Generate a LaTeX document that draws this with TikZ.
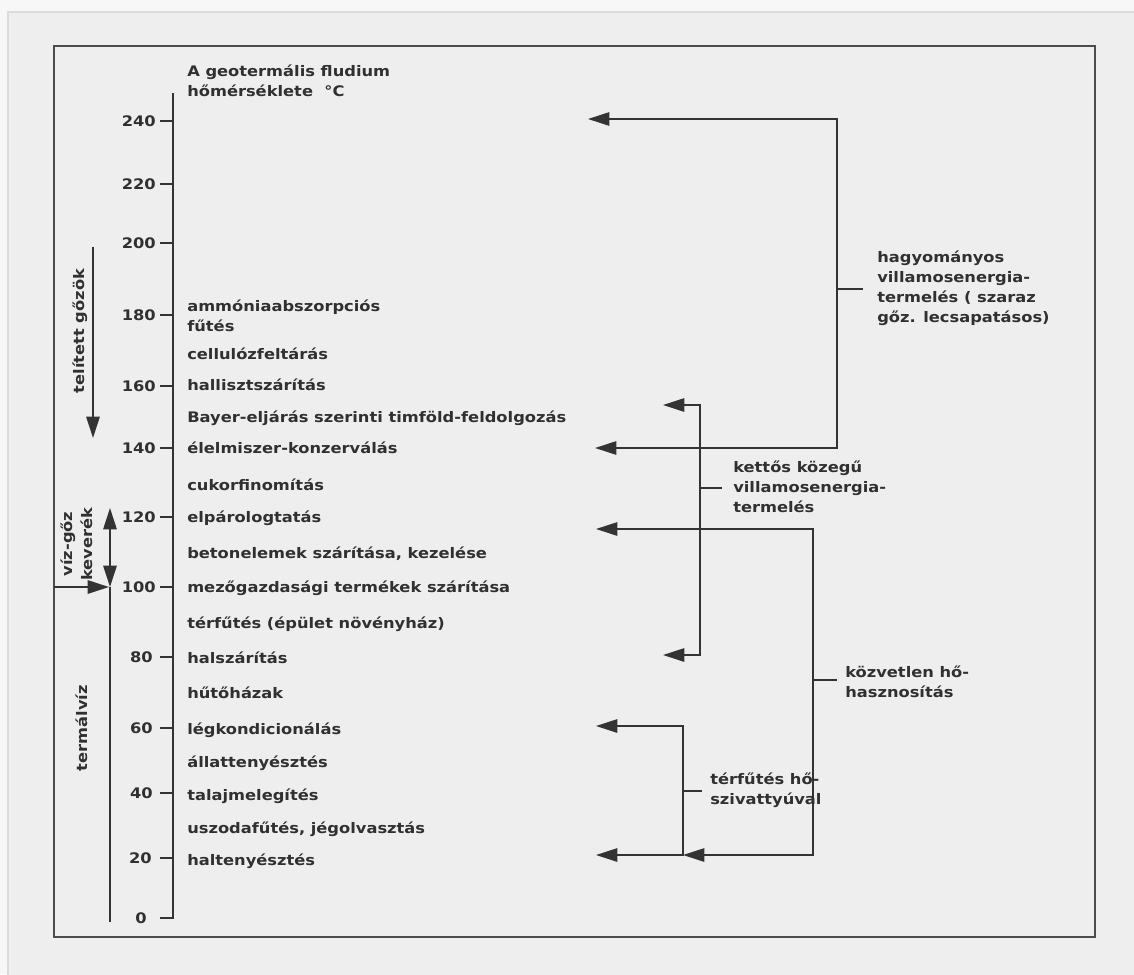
\documentclass[tikz,border=0pt]{standalone}
\usepackage{fontspec}
\usetikzlibrary{arrows.meta}
\newfontfamily\lblfont[FakeStretch=1.12]{DejaVu Sans}
\definecolor{ink}{HTML}{333333}
\definecolor{txt}{HTML}{303030}
\definecolor{paper}{HTML}{EEEEEE}
\definecolor{margin}{HTML}{F7F7F7}
\tikzset{
  every node/.style={font=\lblfont\bfseries\fontsize{10.9pt}{15pt}\selectfont, text=txt, inner sep=0pt},
  conn/.style={draw=ink, line width=1.4pt},
  tipend/.style={conn, -{Triangle[length=16pt,width=10pt]}},
  tipboth/.style={conn, {Triangle[length=16pt,width=10pt]}-{Triangle[length=16pt,width=10pt]}},
  tick/.style={draw=ink, line width=1.4pt},
  ticklab/.style={anchor=east},
  uselab/.style={anchor=base west},
  grplab/.style={anchor=west, align=left},
  sidelab/.style={rotate=90, align=center}
}
\begin{document}
\begin{tikzpicture}[x=0.75pt, y=-0.75pt]
\useasboundingbox (0,0) rectangle (1134,974);
% page background and outer panel
\fill[margin] (0,0) rectangle (1134,974);
\filldraw[fill=paper, draw=black!14, line width=0.8pt] (8,12) rectangle (1160,1000);
% diagram frame
\draw[draw=black!70, line width=1.8pt] (54,46) rectangle (1095,937);

% temperature axis
\draw[conn] (173,93) -- (173,918) -- (160,918);
\foreach \v/\y/\x in {240/121/156, 220/184/156, 200/243/156, 180/315/156, 160/386/156,
                      140/448/156, 120/517/156, 100/587/156, 80/657/153, 60/728/153,
                      40/793/153, 20/858/152} {
  \draw[tick] (160,\y) -- (173,\y);
  \node[ticklab] (t\v) at (\x,\y) {\v};
}
\node[ticklab] (t0) at (147,918) {0};

% axis title
\node[grplab] (title) at (187,81) {A geotermális fludium\\hőmérséklete~~°C};

% applications
\node[grplab] (u180) at (187,316) {ammóniaabszorpciós\\fűtés};
\node[uselab] (u170) at (187,359) {cellulózfeltárás};
\node[uselab] (u160) at (187,390) {hallisztszárítás};
\node[uselab] (u150) at (187,422) {Bayer-eljárás szerinti timföld-feldolgozás};
\node[uselab] (u140) at (187,453) {élelmiszer-konzerválás};
\node[uselab] (u130) at (187,490) {cukorfinomítás};
\node[uselab] (u120) at (187,522) {elpárologtatás};
\node[uselab] (u110) at (187,558) {betonelemek szárítása, kezelése};
\node[uselab] (u100) at (187,592) {mezőgazdasági termékek szárítása};
\node[uselab] (u90)  at (187,628) {térfűtés (épület növényház)};
\node[uselab] (u80)  at (187,663) {halszárítás};
\node[uselab] (u70)  at (187,698) {hűtőházak};
\node[uselab] (u60)  at (187,734) {légkondicionálás};
\node[uselab] (u50)  at (187,767) {állattenyésztés};
\node[uselab] (u40)  at (187,800) {talajmelegítés};
\node[uselab] (u30)  at (187,833) {uszodafűtés, jégolvasztás};
\node[uselab] (u20)  at (187,865) {haltenyésztés};

% phase ranges on the left
\node[sidelab] (steam) at (80,331) {telített gőzök};
\coordinate (steamA) at (93,247);
\coordinate (steamB) at (93,438);
\draw[tipend] (steamA) -- (steamB);

\node[sidelab] (mix) at (77,544) {víz-gőz\\keverék};
\coordinate (mixLo) at (110,587);
\coordinate (mixHi) at (110,508);
\coordinate (waterEnd) at (110,922);
\coordinate (inlet) at (54,587);
\coordinate (inletTip) at (109,587);
\draw[tipboth] (mixLo) -- (mixHi);
\draw[conn] (mixLo) -- (waterEnd);
\draw[tipend] (inlet) -- (inletTip);
\node[sidelab] (water) at (82,728) {termálvíz};

% conventional power generation
\coordinate (hyTop) at (588,119);
\coordinate (hyC1) at (837,119);
\coordinate (hyC2) at (837,448);
\coordinate (hyBot) at (595,448);
\coordinate (hyJ) at (837,289);
\coordinate (hyE) at (863,289);
\draw[tipboth] (hyTop) -- (hyC1) -- (hyC2) -- (hyBot);
\draw[conn] (hyJ) -- (hyE);
\node[grplab] (hy) at (877,288) {hagyományos\\villamosenergia-\\termelés ( szaraz\\gőz. lecsapatásos)};

% binary cycle power generation
\coordinate (bcTop) at (663,405);
\coordinate (bcC1) at (700,405);
\coordinate (bcC2) at (700,655);
\coordinate (bcBot) at (663,655);
\coordinate (bcJ) at (700,488);
\coordinate (bcE) at (722,488);
\draw[tipboth] (bcTop) -- (bcC1) -- (bcC2) -- (bcBot);
\draw[conn] (bcJ) -- (bcE);
\node[grplab] (bc) at (733,487) {kettős közegű\\villamosenergia-\\termelés};

% direct heat use
\coordinate (dhTop) at (596,529);
\coordinate (dhC1) at (813,529);
\coordinate (dhC2) at (813,855);
\coordinate (dhBot) at (683,855);
\coordinate (dhJ) at (813,680);
\coordinate (dhE) at (837,680);
\draw[tipboth] (dhTop) -- (dhC1) -- (dhC2) -- (dhBot);
\draw[conn] (dhJ) -- (dhE);
\node[grplab] (dh) at (845,682) {közvetlen hő-\\hasznosítás};

% heat pump space heating
\coordinate (hpTop) at (596,726);
\coordinate (hpC1) at (683,726);
\coordinate (hpC2) at (683,855);
\coordinate (hpBot) at (596,855);
\coordinate (hpJ) at (683,791);
\coordinate (hpE) at (702,791);
\draw[tipboth] (hpTop) -- (hpC1) -- (hpC2) -- (hpBot);
\draw[conn] (hpJ) -- (hpE);
\node[grplab] (hp) at (710,790) {térfűtés hő-\\szivattyúval};
\end{tikzpicture}
\end{document}
